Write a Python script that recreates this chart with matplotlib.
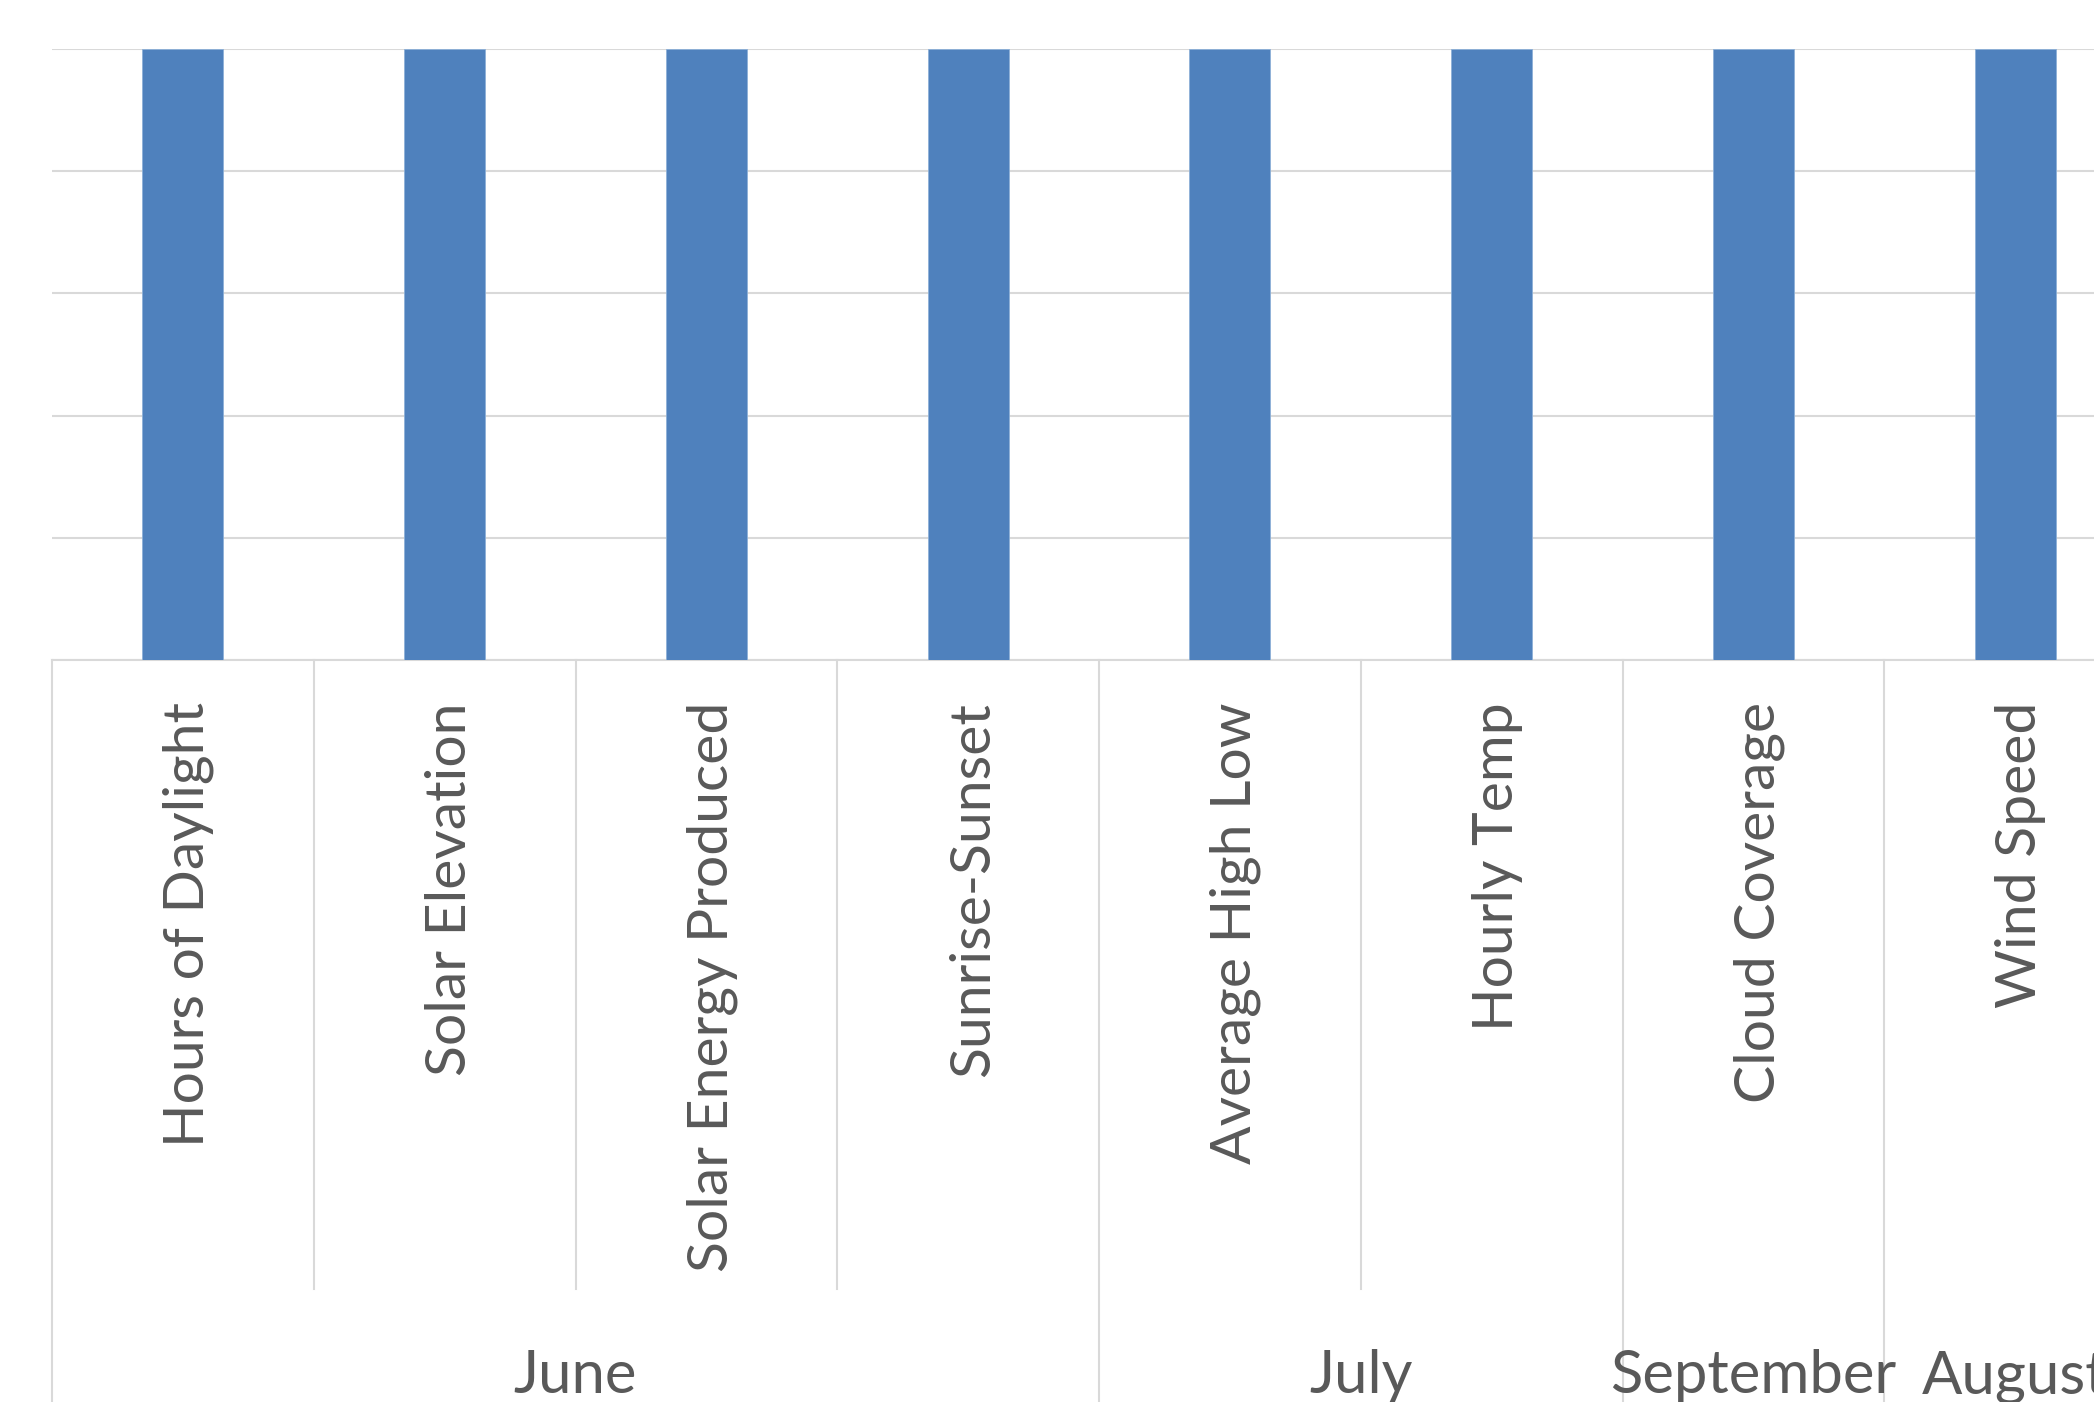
import numpy as np
import matplotlib.pyplot as plt

# two-level category axis: metric under month
categories = ["Hours of Daylight", "Solar Elevation", "Solar Energy Produced",
              "Sunrise-Sunset", "Average High Low", "Hourly Temp",
              "Cloud Coverage", "Wind Speed"]
months = ["June", "July", "September", "August"]
month_sizes = [4, 2, 1, 1]
values = [1, 1, 1, 1, 1, 1, 1, 1]

W, H = 2094, 1402
base_px, top_px = 660, 49
axh = base_px - top_px

def frac(py):
    # pixel row -> axes fraction
    return (base_px - py) / axh

txt_color = '#595959'
grid_color = '#d9d9d9'
plt.rcParams['font.family'] = ['Lato', 'DejaVu Sans']

fig = plt.figure(figsize=(W / 100, H / 100), dpi=100)
ax = fig.add_axes([52 / W, 1 - base_px / H, (2146 - 52) / W, axh / H])

x = np.arange(len(categories))
ax.bar(x, values, width=0.31, color='#4f81bd', edgecolor='#8db0d8', linewidth=0.6, zorder=3)

ax.set_xlim(-0.5, len(categories) - 0.5)
ax.set_ylim(0, 1)
ax.set_yticks(np.linspace(0, 1, 6))
ax.yaxis.grid(True, color=grid_color, linewidth=1.5, zorder=0)
ax.tick_params(left=False, labelleft=False, bottom=False, labelbottom=False)
for s in ['top', 'right', 'left']:
    ax.spines[s].set_visible(False)
ax.spines['bottom'].set_color(grid_color)
ax.spines['bottom'].set_linewidth(1.5)

xt = ax.get_xaxis_transform()
# category labels
for i, c in enumerate(categories):
    ax.annotate(c, xy=(i, 0), xycoords=xt, xytext=(4, -42 * 0.72), textcoords='offset points',
                rotation=90, ha='center', va='top', fontsize=41, color=txt_color)

# separators
group_edges = set((np.cumsum([0] + month_sizes) - 0.5).tolist())
for b in np.arange(len(categories) + 1) - 0.5:
    yend = frac(1402) if b in group_edges else frac(1289)
    ax.plot([b, b], [0, yend], transform=xt, clip_on=False, color=grid_color, linewidth=1.5)

# month labels
start = 0
for m, n in zip(months, month_sizes):
    cx = start + (n - 1) / 2
    ax.text(cx, frac(1393), m, transform=xt, ha='center', va='baseline',
            fontsize=43, color=txt_color, clip_on=False)
    start += n

fig.savefig('out.png', dpi=100)
